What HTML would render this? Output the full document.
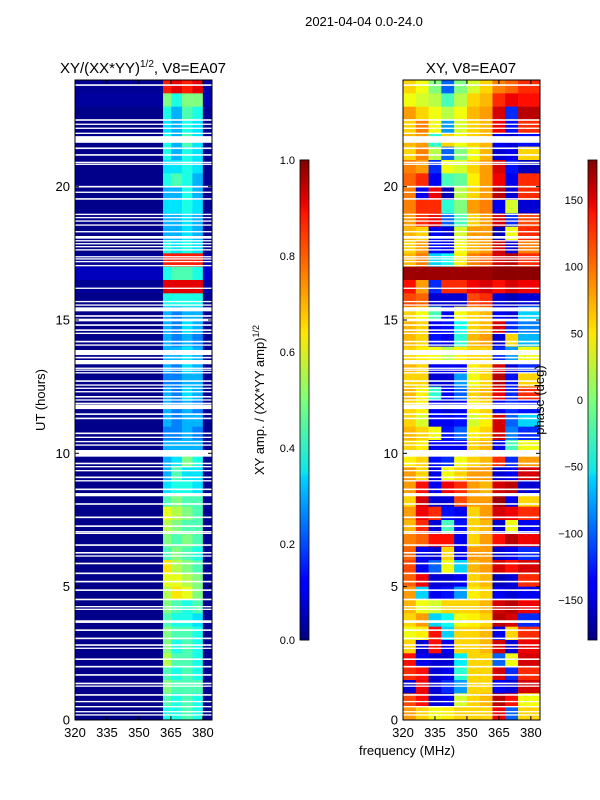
<!DOCTYPE html>
<html><head><meta charset="utf-8"><style>
html,body{margin:0;padding:0;background:#fff;}
svg{display:block;font-family:"Liberation Sans","DejaVu Sans",sans-serif;}
</style></head><body>
<svg id="fig" width="600" height="800" viewBox="0 0 600 800">
<defs>
<linearGradient id="jet" x1="0" y1="1" x2="0" y2="0">
<stop offset="0" stop-color="#00007f"/><stop offset="0.11" stop-color="#0000ff"/><stop offset="0.125" stop-color="#0000ff"/>
<stop offset="0.34" stop-color="#00d4ff"/><stop offset="0.35" stop-color="#0fe5e8"/><stop offset="0.5" stop-color="#7dff7a"/>
<stop offset="0.64" stop-color="#ffe600"/><stop offset="0.66" stop-color="#ffd400"/><stop offset="0.89" stop-color="#ff1300"/>
<stop offset="0.91" stop-color="#ed0000"/><stop offset="1" stop-color="#7f0000"/>
</linearGradient>
</defs>
<text x="364" y="26" font-size="13" text-anchor="middle">2021-04-04 0.0-24.0</text>
<text x="143" y="73" font-size="15" text-anchor="middle">XY/(XX*YY)<tspan font-size="10" dy="-6">1/2</tspan><tspan dy="6">, V8=EA07</tspan></text>
<text x="471" y="73" font-size="15" text-anchor="middle">XY, V8=EA07</text>
<text transform="translate(45,400) rotate(-90)" font-size="13" text-anchor="middle">UT (hours)</text>
<text x="407" y="755" font-size="13" text-anchor="middle">frequency (MHz)</text>
<g id="ampPanel"></g>
<g id="phPanel"></g>
<g id="axes"></g>
<rect x="300" y="160" width="9" height="480" fill="url(#jet)" stroke="#000" stroke-width="0.8"/>
<rect x="588" y="160" width="9" height="480" fill="url(#jet)" stroke="#000" stroke-width="0.8"/>
<text transform="translate(264,400) rotate(-90)" font-size="13" text-anchor="middle">XY amp. / (XX*YY amp)<tspan font-size="9" dy="-5">1/2</tspan></text>
<text transform="translate(544,400) rotate(-90)" font-size="13" text-anchor="middle">phase (deg)</text>
</svg>
<script>
// time rows (hours, lower edge), 0.5h each, top to bottom
const rowStarts = [23.5,23,22.5,22,21.5,21,20.5,20,19.5,19,18.5,18,17.5,17,16.5,16,15.5,15,14.5,14,13.5,13,12.5,12,11.5,11,10.5,10,9.5,9,8.5,8,7.5,7,6.5,6,5.5,5,4.5,4,3.5,3,2.5,2,1.5,1,0.5,0];
// amplitude panel frequency bins (MHz edges)
const ampFreqEdges = [320,361.3,365.2,370.2,375.1,380,384.3];
const ampValues = [
[.02,.85,.9,.85,.9,.04],[.03,.5,.4,.5,.5,.05],[.01,.4,.3,.45,.4,.02],[.01,.35,.3,.4,.35,.02],
[.01,.4,.3,.45,.35,.02],[.01,.4,.3,.4,.35,.02],[.01,.35,.35,.4,.35,.02],[.01,.4,.45,.4,.3,.02],
[.01,.3,.3,.4,.3,.02],[.01,.35,.35,.4,.35,.02],[.01,.3,.3,.35,.3,.02],[.01,.3,.3,.35,.3,.02],
[.01,.4,.35,.4,.35,.02],[.02,.85,.85,.85,.85,.04],[.06,.4,.45,.45,.4,.08],[.02,.9,.9,.9,.9,.04],
[.01,.4,.4,.4,.4,.02],[.01,.3,.25,.3,.3,.02],[.01,.3,.25,.35,.3,.02],[.01,.3,.25,.3,.25,.02],
[.01,.3,.3,.35,.3,.02],[.01,.3,.25,.35,.3,.02],[.01,.25,.25,.3,.3,.02],[.01,.3,.25,.35,.3,.02],
[.01,.3,.25,.3,.25,.02],[.01,.3,.25,.3,.3,.02],[.01,.25,.25,.3,.25,.02],[.01,.3,.3,.3,.3,.02],
[.01,.3,.35,.5,.4,.02],[.01,.3,.45,.35,.35,.02],[.01,.35,.4,.4,.35,.02],[.01,.45,.5,.45,.45,.02],
[.01,.6,.55,.5,.45,.02],[.01,.55,.5,.45,.45,.02],[.01,.5,.45,.5,.45,.02],[.01,.45,.5,.45,.4,.02],
[.01,.65,.55,.5,.45,.02],[.01,.6,.6,.55,.5,.02],[.01,.55,.65,.6,.5,.02],[.01,.5,.45,.4,.45,.02],
[.01,.45,.4,.4,.35,.02],[.01,.5,.45,.45,.4,.02],[.01,.5,.4,.45,.4,.02],[.01,.55,.45,.45,.4,.02],
[.01,.45,.4,.45,.4,.02],[.01,.5,.45,.45,.45,.02],[.01,.45,.4,.45,.4,.02],[.01,.4,.4,.45,.4,.02]];
// phase panel frequency bins
const phFreqEdges = [320,326,332,338,344,350,356,362,368,374,384.3];
const phValues = [
[60,40,0,-100,0,30,60,90,100,120],[40,30,20,-20,20,60,70,120,140,130],[80,60,40,20,40,70,80,150,-120,160],
[60,90,40,-80,30,60,70,140,-130,120],[70,80,-30,60,40,60,70,-140,-150,-130],[60,90,20,-100,0,40,70,-150,-140,60],
[90,80,-120,40,30,60,80,150,-130,-160],[100,120,-140,-20,-10,50,80,140,-140,120],[90,-140,140,-160,20,60,80,160,-150,120],
[90,120,120,-30,0,80,90,-140,30,-150],[80,120,140,-100,-20,60,80,150,-120,110],[70,60,-140,-150,30,80,80,-160,40,120],
[60,80,-130,-140,40,70,80,150,-150,90],[70,90,-60,-40,50,90,100,150,160,120],[170,170,170,170,170,170,170,175,175,175],
[130,80,-120,120,120,140,150,130,150,140],[110,100,-150,-150,-150,110,120,-150,-160,-150],[60,40,-20,-140,40,60,70,-140,-150,-60],
[70,60,-140,-130,-40,60,70,150,-120,-90],[70,60,-130,-140,-30,70,80,-150,60,-70],[60,50,40,20,50,60,60,-120,-80,40],
[70,60,-140,-140,-140,50,60,150,-150,-120],[60,60,-150,-150,-80,40,60,160,-130,60],[70,50,-30,-140,-100,60,70,140,-120,120],
[60,50,-140,-150,-140,50,60,-140,-120,-130],[60,30,-140,-140,-130,30,50,150,-100,-60],[70,60,40,-130,-100,50,60,150,-90,-120],
[60,50,-140,-140,-140,60,70,-140,-20,40],[50,60,-130,-120,40,60,70,120,-120,80],[80,60,-140,40,60,80,80,-150,-140,150],
[80,130,-140,140,120,80,70,150,160,-150],[60,150,-150,-150,110,80,80,170,-140,60],[80,140,120,-130,-140,60,80,150,140,120],
[70,120,-150,-20,-130,60,70,-150,40,-140],[90,100,130,130,-140,60,80,130,160,140],[100,-140,-150,60,-140,80,80,-150,-140,-120],
[110,-140,-100,40,-60,70,80,150,130,150],[100,140,-150,-150,-140,60,70,-160,-150,120],[80,-60,-140,-130,-80,50,60,-140,-150,-140],
[70,40,30,60,60,60,70,150,160,140],[60,80,-60,-40,40,50,60,160,150,-120],[40,50,130,-60,60,60,70,-140,60,120],
[60,-150,130,-140,60,60,70,150,-150,140],[130,-140,-150,-150,-50,60,60,-100,40,150],[120,130,-150,-140,-30,60,60,150,-120,120],
[-150,140,-150,-120,-80,60,60,-140,-150,150],[110,130,-150,-140,30,60,70,160,130,40],[80,60,40,50,60,60,60,140,-100,60]];
// flagged (no-data) times, hours, and their widths
const gapTimes = [23.81,22.5,22.34,22.19,22.0,21.77,21.44,21.19,20.91,20.84,20.0,19.79,19.54,18.96,18.84,18.71,18.56,18.31,18.1,17.97,17.86,17.75,17.63,17.37,17.29,17.19,17.04,16.19,15.69,15.56,15.4,15.15,15.0,14.81,14.62,14.5,14.19,14.06,13.78,13.59,13.42,13.19,13.12,13.02,12.71,12.56,12.44,12.31,12.12,12.0,11.87,11.75,11.69,11.47,11.31,10.75,10.6,10.44,10.31,10.0,9.62,9.5,9.35,9.1,8.97,8.65,8.45,8.1,7.6,7.27,7.06,7.0,6.56,6.27,6.15,5.87,5.5,5.19,4.87,4.52,4.25,4.15,3.69,3.37,3.06,2.81,2.69,2.28,2.0,1.69,1.37,1.27,0.94,0.69,0.5,0.31,0.19];
const gapWidths = [.06,.06,.05,.05,.05,.25,.06,.06,.05,.05,.06,.05,.06,.05,.05,.05,.05,.05,.1,.05,.05,.05,.05,.05,.05,.05,.05,.05,.05,.05,.15,.06,.1,.06,.06,.05,.06,.05,.19,.06,.16,.05,.05,.05,.06,.05,.05,.05,.06,.05,.06,.15,.06,.06,.06,.06,.05,.05,.05,.25,.06,.05,.05,.06,.05,.06,.12,.06,.06,.06,.05,.05,.06,.06,.05,.06,.06,.06,.06,.06,.05,.05,.1,.06,.06,.06,.05,.06,.06,.06,.06,.05,.06,.05,.05,.05,.05];
const yTicks = [0,5,10,15,20];
const xTicks = [320,335,350,365,380];
const ampCbTicks = ["0.0","0.2","0.4","0.6","0.8","1.0"];
const phCbTicks = [-150,-100,-50,0,50,100,150];

const NS='http://www.w3.org/2000/svg';
function jet(v){v=Math.max(0,Math.min(1,v));
 const r=Math.max(0,Math.min(1,1.5-Math.abs(4*v-3))),g=Math.max(0,Math.min(1,1.5-Math.abs(4*v-2))),b=Math.max(0,Math.min(1,1.5-Math.abs(4*v-1)));
 return 'rgb('+Math.round(r*255)+','+Math.round(g*255)+','+Math.round(b*255)+')';}
const Y0=720,Y1=80,T1=24;
function yScale(h){return Y0-(h/T1)*(Y0-Y1);}
function makeX(x0){return f=>x0+(f-320)*(137/64.3);}
const xA=makeX(75), xP=makeX(403);
function mk(tag,attrs,parent){const e=document.createElementNS(NS,tag);for(const k in attrs)e.setAttribute(k,attrs[k]);parent.appendChild(e);return e;}
function drawHeat(g,xs,edges,vals,norm,name){
 rowStarts.forEach((h,i)=>{
  vals[i].forEach((v,j)=>{
   const x1=xs(edges[j]),x2=xs(edges[j+1]),yt=yScale(h+0.5),yb=yScale(h);
   const r=mk('rect',{x:x1,y:yt,width:x2-x1+0.3,height:yb-yt+0.3,fill:jet(norm(v))},g);
   
   
  });
 });
 gapTimes.forEach((t,k)=>{
  const yt=yScale(t+gapWidths[k]/2),yb=yScale(t-gapWidths[k]/2);
  const r=mk('rect',{x:xs(320),y:yt,width:137,height:Math.max(1.2,yb-yt),fill:'#fff'},g);
  
  
 });
}
drawHeat(document.getElementById('ampPanel'),xA,ampFreqEdges,ampValues,v=>v,'amp-cell');
drawHeat(document.getElementById('phPanel'),xP,phFreqEdges,phValues,v=>(v+180)/360,'phase-cell');
const ax=document.getElementById('axes');
[[75,'amp'],[403,'phase']].forEach(([x0,nm])=>{
 const xs=makeX(x0);
 const fr=mk('rect',{x:x0,y:80,width:137,height:640,fill:'none',stroke:'#000','stroke-width':1},ax);
 
 
 yTicks.forEach(t=>{const y=yScale(t);
  mk('line',{x1:x0,x2:x0+4,y1:y,y2:y,stroke:'#000'},ax);
  mk('line',{x1:x0+137,x2:x0+133,y1:y,y2:y,stroke:'#000'},ax);
  const tx=mk('text',{x:x0-5,y:y+4.5,'font-size':13,'text-anchor':'end'},ax);tx.textContent=t;
  
  
 });
 xTicks.forEach(t=>{const x=xs(t);
  mk('line',{x1:x,x2:x,y1:720,y2:716,stroke:'#000'},ax);
  mk('line',{x1:x,x2:x,y1:80,y2:84,stroke:'#000'},ax);
  const tx=mk('text',{x:x,y:737,'font-size':13,'text-anchor':'middle'},ax);tx.textContent=t;
  
  
 });
});
ampCbTicks.forEach((t,i)=>{const y=640-i*96;
 mk('line',{x1:300,x2:309,y1:y,y2:y,stroke:'#000','stroke-width':0.8},ax);
 const tx=mk('text',{x:295,y:y+4,'font-size':11,'text-anchor':'end'},ax);tx.textContent=t;
 
 
});
phCbTicks.forEach(t=>{const y=400-t/180*240;
 mk('line',{x1:588,x2:597,y1:y,y2:y,stroke:'#000','stroke-width':0.8},ax);
 const tx=mk('text',{x:583,y:y+4,'font-size':11,'text-anchor':'end'},ax);tx.textContent=t<0?'\u2212'+(-t):t;
 
 
});
</script>
</body></html>
